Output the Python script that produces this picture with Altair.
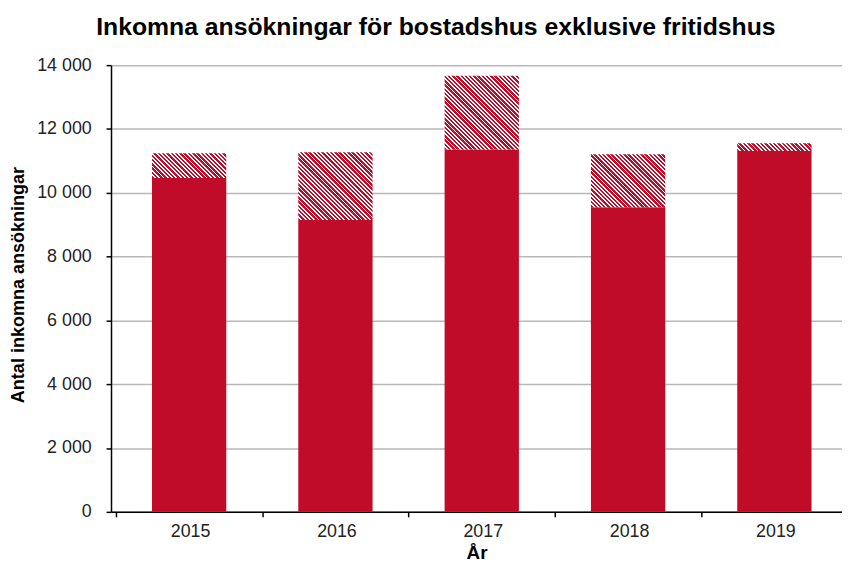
import altair as alt
import pandas as pd

years = [2015, 2016, 2017, 2018, 2019]
solid = [10460, 9150, 11360, 9550, 11310]
total = [11240, 11270, 13670, 11210, 11550]

W = 738
H = 451
STEP = 149.75
BAR = 75
YMAX = 14000
XMIN = years[0] - 0.5
XMAX = XMIN + W / STEP
RED = "#c00c28"
FONT = "Liberation Sans"

df = pd.DataFrame({"year": years, "solid": solid, "total": total})


def hatch(s, t, period=4.3, red_share=0.58):
    h = max((t - s) * H / YMAX, 1.0)
    w = float(BAR)
    k = h / w
    sc = (1 + k) / (1 + k * k)
    n = max(1, round((w + h) / period))
    stops = []
    for i in range(n):
        a, b, c = i / n, (i + red_share) / n, (i + 1) / n
        stops += [
            {"offset": a, "color": RED},
            {"offset": b, "color": RED},
            {"offset": b, "color": "#ffffff"},
            {"offset": c, "color": "#ffffff"},
        ]
    return alt.LinearGradient(gradient="linear", x1=0, y1=1, x2=sc, y2=1 - sc * k, stops=stops)


x_enc = alt.X(
    "year:Q",
    title="År",
    scale=alt.Scale(domain=[XMIN, XMAX], nice=False, zero=False),
    axis=alt.Axis(
        values=[y - 0.5 for y in years],
        labelExpr="format(datum.value + 0.5, 'd')",
        labelOffset=STEP / 2,
        labelAngle=0,
        labelFontSize=18,
        labelFont=FONT,
        labelColor="#222222",
        labelPadding=6,
        labelFlush=False,
        labelOverlap=False,
        tickSize=5,
        tickColor="#000000",
        tickWidth=1.5,
        domainColor="#000000",
        domainWidth=1.5,
        grid=False,
        titleFont=FONT,
        titleFontSize=19,
        titleFontWeight="bold",
        titleColor="#000000",
        titlePadding=3,
    ),
)

y_enc = alt.Y(
    "solid:Q",
    title="Antal inkomna ansökningar",
    scale=alt.Scale(domain=[0, YMAX], nice=False),
    axis=alt.Axis(
        values=list(range(0, YMAX + 1, 2000)),
        labelExpr="replace(format(datum.value, ','), ',', ' ')",
        labelFontSize=18,
        labelFont=FONT,
        labelColor="#222222",
        labelPadding=15,
        tickSize=5,
        tickColor="#000000",
        tickWidth=1.5,
        domainColor="#000000",
        domainWidth=1.5,
        grid=True,
        gridColor="#b8b8b8",
        gridWidth=1.5,
        titleFont=FONT,
        titleFontSize=18.2,
        titleFontWeight="bold",
        titleColor="#000000",
        titleX=-93,
        titleY=H / 2 - 4,
        titleAngle=270,
        titleAlign="center",
        titleBaseline="middle",
    ),
)

base = alt.Chart(df).mark_bar(size=BAR, color=RED).encode(x=x_enc, y=y_enc)

layers = [base]
for yr, s, t in zip(years, solid, total):
    layers.append(
        alt.Chart(df)
        .transform_filter(alt.datum.year == yr)
        .mark_bar(size=BAR, color=hatch(s, t))
        .encode(x=x_enc, y=y_enc, y2="total:Q")
    )

chart = (
    alt.layer(*layers)
    .properties(
        width=W,
        height=H,
        autosize=alt.AutoSizeParams(type="none"),
        padding={"left": 104, "top": 55, "right": 0, "bottom": 55},
        title=alt.TitleParams(
            "Inkomna ansökningar för bostadshus exklusive fritidshus",
            font=FONT,
            fontSize=25,
            fontWeight="bold",
            color="#000000",
            anchor="middle",
            dx=-41,
            offset=16,
        ),
    )
    .configure_view(stroke=None)
)

chart.save("out.html", embed_options={"renderer": "svg", "actions": False})
